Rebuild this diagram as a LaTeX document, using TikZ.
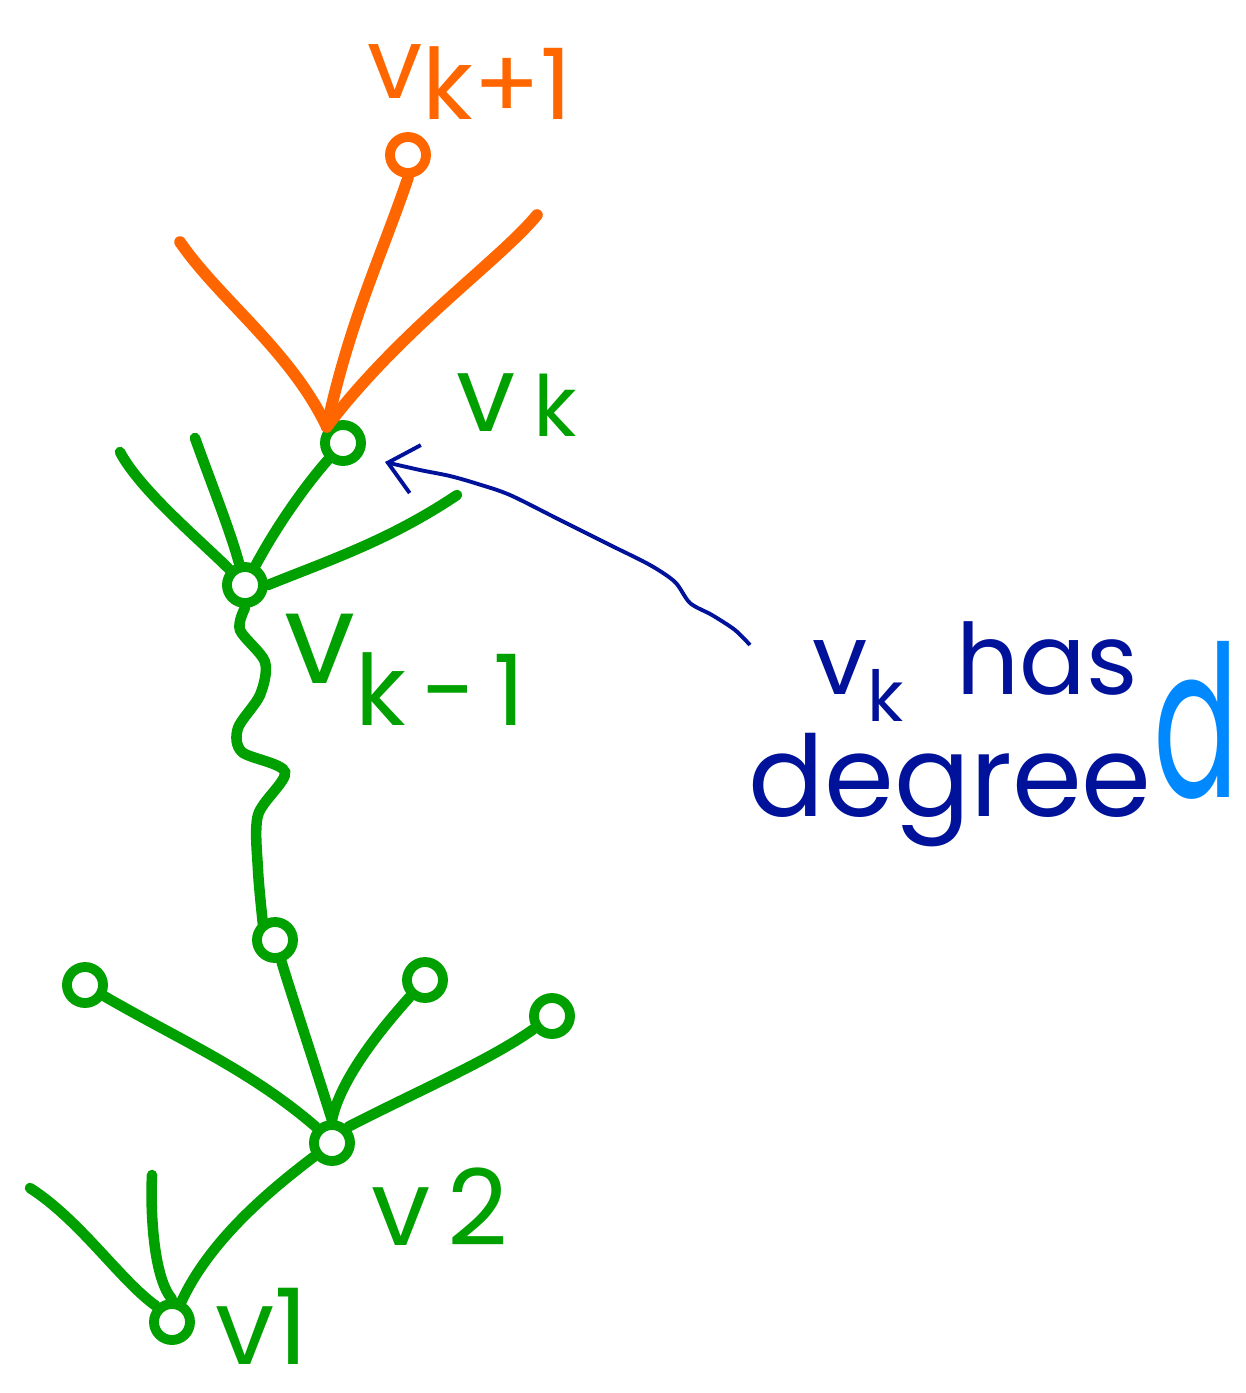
\documentclass[tikz,border=0pt]{standalone}
\usepackage{amsmath}
\usepackage{fontspec}
\setmainfont{Poppins}
\usepackage{tikz}
\usetikzlibrary{arrows.meta}

\definecolor{treegreen}{RGB}{0,160,0}
\definecolor{pathorange}{RGB}{255,102,0}
\definecolor{inknavy}{RGB}{0,17,154}
\definecolor{inkblue}{RGB}{0,136,255}

\tikzset{
  vert/.style={circle,draw=treegreen,line width=2.8pt,minimum size=0.36cm,inner sep=0pt},
  edge/.style={treegreen,line width=3pt,line cap=round},
  nxt/.style={pathorange,line width=3.3pt,line cap=round},
  lbl/.style={inner sep=0pt}
}

\begin{document}
\begin{tikzpicture}[x=0.01cm,y=-0.01cm]
\useasboundingbox (0,0) rectangle (1246,1393);
% vertices of the path
\node[vert,draw=pathorange] (vnext) at (408,155) {};
\node[vert] (vk) at (343,443) {};
\node[vert] (vkm) at (245,585) {};
\node[vert] (vm) at (275,940) {};
\node[vert] (v2) at (332,1143) {};
\node[vert] (v1) at (172,1322) {};
% leaves
\node[vert] (la) at (85,985) {};
\node[vert] (lb) at (425,980) {};
\node[vert] (lc) at (552,1016) {};
% free ends
\coordinate (oa) at (180,242);
\coordinate (ob) at (537,215);
\coordinate (ga) at (120,452);
\coordinate (gb) at (195,438);
\coordinate (gc) at (457,495);
\coordinate (ha) at (30,1188);
\coordinate (hb) at (152,1175);
\coordinate (arrowtail) at (750,645);
\coordinate (arrowhead) at (385,462);

% orange edges at v_k
\draw[nxt] (vk.north west) .. controls (350,320) and (380,260) .. (vnext.south);
\draw[nxt] (vk.north west) .. controls (290,350) and (220,300) .. (oa);
\draw[nxt] (vk.north west) .. controls (400,330) and (500,260) .. (ob);

% green edges
\draw[edge] (vk) .. controls (310,480) and (280,520) .. (vkm);
\draw[edge] (vkm) .. controls (200,540) and (140,490) .. (ga);
\draw[edge] (vkm) .. controls (230,530) and (210,480) .. (gb);
\draw[edge] (vkm.east) .. controls (330,560) and (390,540) .. (gc);
\draw[edge] plot[smooth] coordinates {(vkm.south) (240,630) (265,662) (260,695) (238,728) (242,752) (285,772) (258,815) (258,870) (263,925)};
\draw[edge] (vm) .. controls (290,990) and (310,1050) .. (v2.north);
\draw[edge] (v2.north west) .. controls (250,1070) and (180,1040) .. (la);
\draw[edge] (v2.north) .. controls (340,1080) and (380,1030) .. (lb);
\draw[edge] (v2.north east) .. controls (420,1090) and (490,1060) .. (lc);
\draw[edge] (v2) .. controls (270,1190) and (210,1240) .. (v1);
\draw[edge] (v1.north west) .. controls (120,1280) and (80,1220) .. (ha);
\draw[edge] (v1.north) .. controls (155,1280) and (150,1220) .. (hb);

% arrow to v_k
\draw[inknavy,line width=1.1pt,-{Straight Barb[length=8pt,width=14pt]}] plot[smooth] coordinates {(arrowtail) (735,630) (712,615) (690,603) (675,582) (650,565) (610,545) (560,520) (510,495) (478,484) (450,476) (420,470) (arrowhead)};

% labels
\node[lbl,pathorange,font=\fontsize{28}{32}\selectfont] (tnext) at (470,82) {v\raisebox{-0.4ex}{k+1}};
\node[lbl,treegreen,font=\fontsize{30}{34}\selectfont] (tk) at (517,405) {v\,\raisebox{-0.1ex}{\fontsize{24}{26}\selectfont k}};
\node[lbl,treegreen,font=\fontsize{36}{40}\selectfont] (tkm) at (405,670) {v\raisebox{-0.6ex}{\fontsize{28}{30}\selectfont k\,-\,1}};
\node[lbl,treegreen,font=\fontsize{30}{34}\selectfont] (t2) at (440,1207) {v\,2};
\node[lbl,treegreen,font=\fontsize{30}{34}\selectfont] (t1) at (262,1326) {v1};

\node[lbl,inknavy,font=\fontsize{28}{32}\selectfont] (thas) at (975,672) {v\raisebox{-0.5ex}{\fontsize{20}{22}\selectfont k}\ \ has};
\node[lbl,inknavy,font=\fontsize{32}{36}\selectfont] (tdeg) at (950,790) {degree};
\node[lbl,inkblue,font=\fontsize{60}{64}\selectfont] (td) at (1196,720) {\scalebox{0.6}[1]{d}};
\end{tikzpicture}
\end{document}
